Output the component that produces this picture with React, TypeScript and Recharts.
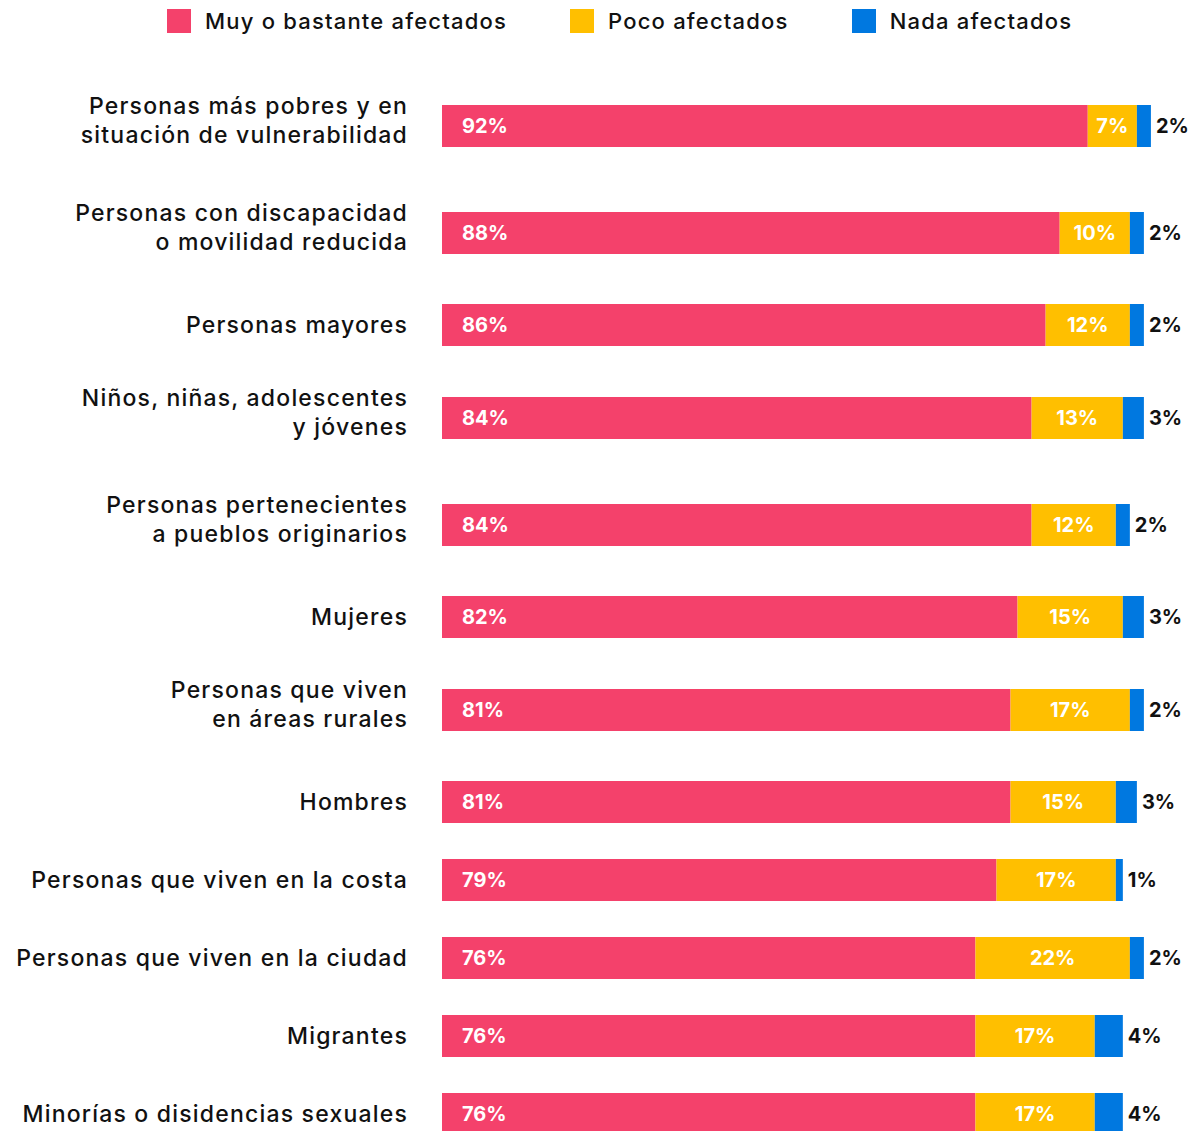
import * as React from "react";
import { BarChart, Bar, XAxis, YAxis, LabelList } from "recharts";

// Survey: who is most affected (%)
const CATEGORIES = [
  "Personas más pobres y en\nsituación de vulnerabilidad",
  "Personas con discapacidad\no movilidad reducida",
  "Personas mayores",
  "Niños, niñas, adolescentes\ny jóvenes",
  "Personas pertenecientes\na pueblos originarios",
  "Mujeres",
  "Personas que viven\nen áreas rurales",
  "Hombres",
  "Personas que viven en la costa",
  "Personas que viven en la ciudad",
  "Migrantes",
  "Minorías o disidencias sexuales",
];
const MUY = [92, 88, 86, 84, 84, 82, 81, 81, 79, 76, 76, 76];
const POCO = [7, 10, 12, 13, 12, 15, 17, 15, 17, 22, 17, 17];
const NADA = [2, 2, 2, 3, 2, 3, 2, 3, 1, 2, 4, 4];
const SERIES_NAMES = ["Muy o bastante afectados", "Poco afectados", "Nada afectados"];

const COLORS = ["#F4416B", "#FFBF00", "#0078E0"];
const FONT = "Inter, 'Noto Sans', sans-serif";
const WIDTH = 1195;
const LABEL_RIGHT = 408;

const pct = (v: unknown) => `${v}%`;

function CategoryTick(props: any) {
  const { y, payload } = props;
  const lines = String(payload.value).split("\n");
  const n = lines.length;
  const shift = n > 1 ? -5.5 : 0;
  return (
    <text
      x={LABEL_RIGHT}
      y={y}
      textAnchor="end"
      fontFamily={FONT}
      fontSize={23}
      fontWeight={500}
      letterSpacing={1.2}
      fill="#111"
    >
      {lines.map((line, i) => (
        <tspan key={i} x={LABEL_RIGHT} y={y + 8 + shift + (i - (n - 1) / 2) * 29}>
          {line}
        </tspan>
      ))}
    </text>
  );
}

function Row({ index }: { index: number }) {
  const name = CATEGORIES[index];
  // two-line labels get taller rows
  const height = name.includes("\n") ? 107 : 78;
  const data = [{ name, muy: MUY[index], poco: POCO[index], nada: NADA[index] }];
  const valueStyle = { fontFamily: FONT, fontSize: 20, fontWeight: 700 };
  return (
    <BarChart
      width={WIDTH}
      height={height}
      data={data}
      layout="vertical"
      margin={{ top: 0, right: 16, bottom: 0, left: 0 }}
      style={{ overflow: "visible" }}
    >
      <XAxis type="number" domain={[0, 105]} hide />
      <YAxis
        type="category"
        dataKey="name"
        width={442}
        axisLine={false}
        tickLine={false}
        tick={(p: any) => <CategoryTick {...p} />}
      />
      <Bar dataKey="muy" stackId="a" fill={COLORS[0]} barSize={42} isAnimationActive={false}>
        <LabelList dataKey="muy" position="insideLeft" offset={20} formatter={pct} fill="#fff" {...valueStyle} />
      </Bar>
      <Bar dataKey="poco" stackId="a" fill={COLORS[1]} barSize={42} isAnimationActive={false}>
        <LabelList dataKey="poco" position="center" formatter={pct} fill="#fff" {...valueStyle} />
      </Bar>
      <Bar dataKey="nada" stackId="a" fill={COLORS[2]} barSize={42} isAnimationActive={false}>
        <LabelList dataKey="nada" position="right" offset={5} formatter={pct} fill="#111" {...valueStyle} />
      </Bar>
    </BarChart>
  );
}

export default function App() {
  return (
    <div style={{ position: "absolute", left: 0, top: 0, width: WIDTH, background: "#fff", fontFamily: FONT }}>
      <div
        style={{
          height: 71.5,
          display: "flex",
          paddingLeft: 167,
          gap: 63,
          alignItems: "flex-start",
          paddingTop: 9,
          boxSizing: "border-box",
        }}
      >
        {SERIES_NAMES.map((s, i) => (
          <div key={s} style={{ display: "flex", alignItems: "center", gap: 14 }}>
            <span style={{ width: 24, height: 24, background: COLORS[i], display: "inline-block" }} />
            <span style={{ fontSize: 22, fontWeight: 500, color: "#111", lineHeight: "24px", letterSpacing: 1.2 }}>
              {s}
            </span>
          </div>
        ))}
      </div>
      {CATEGORIES.map((_, i) => (
        <Row key={i} index={i} />
      ))}
    </div>
  );
}
